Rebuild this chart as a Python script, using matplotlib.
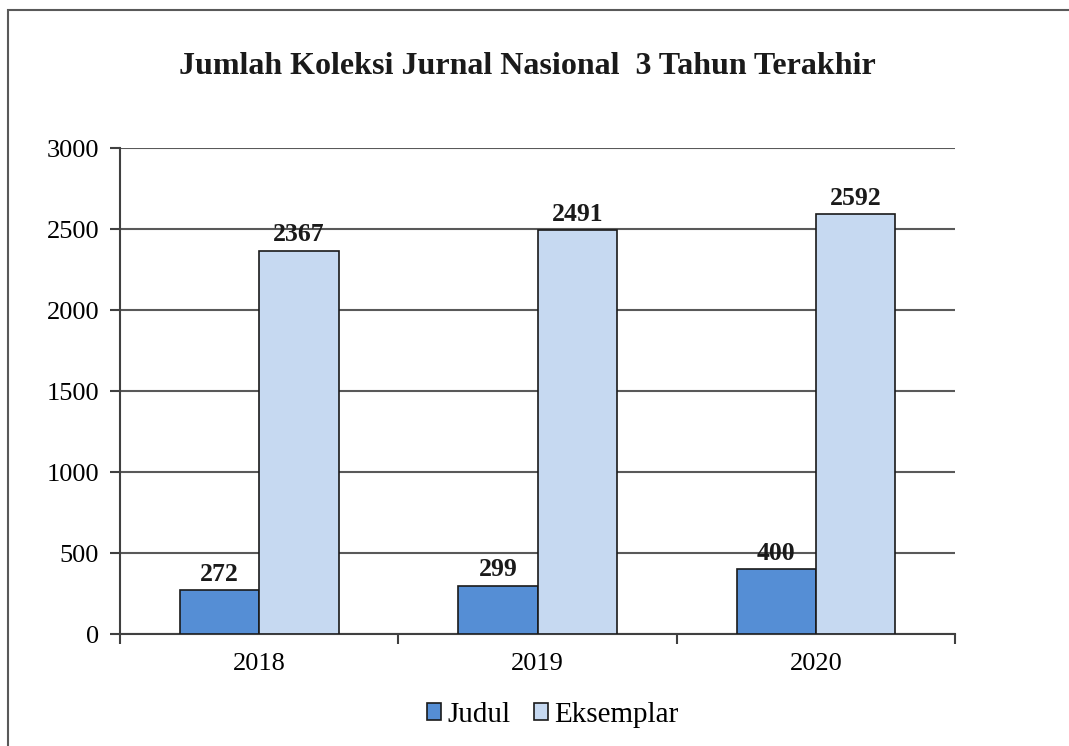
import numpy as np
import matplotlib
matplotlib.use('Agg')
from matplotlib import pyplot as plt
from matplotlib.patches import Rectangle

years = ['2018', '2019', '2020']
judul = [272, 299, 400]
eksemplar = [2367, 2491, 2592]
yticks = [0, 500, 1000, 1500, 2000, 2500, 3000]

plt.rcParams['font.family'] = ['Liberation Serif', 'DejaVu Serif']

fig = plt.figure(figsize=(10.69, 7.46), dpi=100)
ax = fig.add_axes([0.1123, 0.1501, 0.7811, 0.6515])

# outer chart frame (cut off at the right and bottom)
fig.patches.append(Rectangle((8/1069, -0.1), 1.2, (746-10)/746 + 0.1,
                             transform=fig.transFigure, fill=False,
                             edgecolor='#595959', linewidth=1.5))

x = np.arange(len(years))
w = 0.285
b1 = ax.bar(x - w/2, judul, w, color='#558ED5', edgecolor='#1a1a1a',
            linewidth=1.2, label='Judul', zorder=3)
b2 = ax.bar(x + w/2, eksemplar, w, color='#C6D9F1', edgecolor='#1a1a1a',
            linewidth=1.2, label='Eksemplar', zorder=3)

for bars in (b1, b2):
    for r in bars:
        ax.annotate(str(int(r.get_height())),
                    (r.get_x() + r.get_width()/2, r.get_height()),
                    xytext=(0, 3), textcoords='offset points',
                    ha='center', va='bottom', fontsize=18.5,
                    fontweight='bold', color='#1a1a1a')

ax.set_xlim(-0.5, 2.5)
ax.set_ylim(0, 3000)
ax.set_yticks(yticks)
ax.set_xticks(x)
ax.set_xticklabels(years)
ax.set_xticks([-0.5, 0.5, 1.5, 2.5], minor=True)
ax.tick_params(axis='x', which='major', length=0, pad=14, labelsize=19)
ax.tick_params(axis='x', which='minor', length=7, width=1.5,
               direction='out', color='#404040')
ax.tick_params(axis='y', length=7, width=1.5, direction='out',
               color='#404040', labelsize=19, pad=8)
ax.yaxis.grid(True, color='#595959', linewidth=1.5, zorder=0)
ax.set_axisbelow(True)
for s in ('top', 'right'):
    ax.spines[s].set_visible(False)
for s in ('left', 'bottom'):
    ax.spines[s].set_color('#404040')
    ax.spines[s].set_linewidth(1.5)

fig.text(0.493, 0.911, 'Jumlah Koleksi Jurnal Nasional  3 Tahun Terakhir',
         ha='center', va='center', fontsize=23, fontweight='bold',
         color='#1a1a1a')

fig.legend(handles=[b1, b2], loc='center', bbox_to_anchor=(0.517, 0.042),
           ncol=2, frameon=False, fontsize=21, handlelength=0.5,
           handleheight=0.5, handletextpad=0.2, columnspacing=0.8)

fig.savefig('out.png', dpi=100)
